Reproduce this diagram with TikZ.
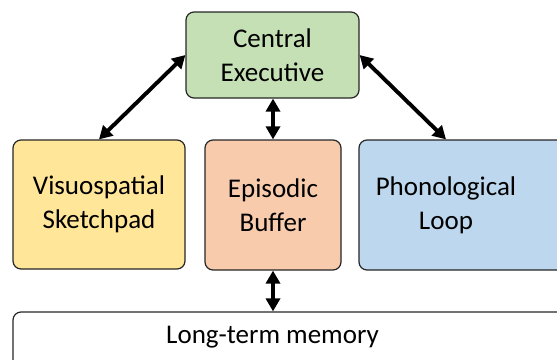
\documentclass[tikz,border=0pt]{standalone}
\usepackage{fontspec}
\setmainfont{Carlito}
\usetikzlibrary{arrows.meta}
\definecolor{cegreen}{HTML}{C5E0B4}
\definecolor{vsyellow}{HTML}{FFE699}
\definecolor{eborange}{HTML}{F8CBAD}
\definecolor{plblue}{HTML}{BDD7EE}
\begin{document}
\begin{tikzpicture}[x=1pt,y=-1pt,
  box/.style={draw=black!85, line width=1.2pt, rounded corners=8pt, rectangle, inner sep=0pt, align=center,
    font=\fontsize{27}{34}\selectfont},
  txt/.style={inner sep=0pt, align=center, font=\fontsize{27}{34}\selectfont},
  link/.style={line width=3.9pt, {Triangle[length=13pt,width=14pt]}-{Triangle[length=13pt,width=14pt]}}]
\useasboundingbox (0,0) rectangle (557,359);
\clip (0,0) rectangle (557,359);
\node[box, fill=cegreen, minimum width=173pt, minimum height=86pt] (ce) at (272.5,55) {Central\\Executive};
\node[box, fill=vsyellow, minimum width=172pt, minimum height=129pt] (vs) at (99,204.5) {Visuospatial\\Sketchpad};
\node[box, fill=eborange, minimum width=136pt, minimum height=130pt] (eb) at (273,205) {Episodic\\Buffer};
\node[box, fill=plblue, minimum width=241pt, minimum height=130pt] (pl) at (479.5,205) {};
\node[txt] (plt) at (446,205) {Phonological\\Loop};
\node[box, fill=white, minimum width=600pt, minimum height=90pt] (ltm) at (313,357) {};
\node[txt] (ltmt) at (272.5,337) {Long-term memory};
\draw[link] (ce.west) -- (vs.north);
\draw[link] (ce.east) -- (plt |- pl.north);
\draw[link] (ce.south -| eb.north) -- (eb.north);
\draw[link] (eb.south) -- (eb.south |- ltm.north);
\end{tikzpicture}
\end{document}
